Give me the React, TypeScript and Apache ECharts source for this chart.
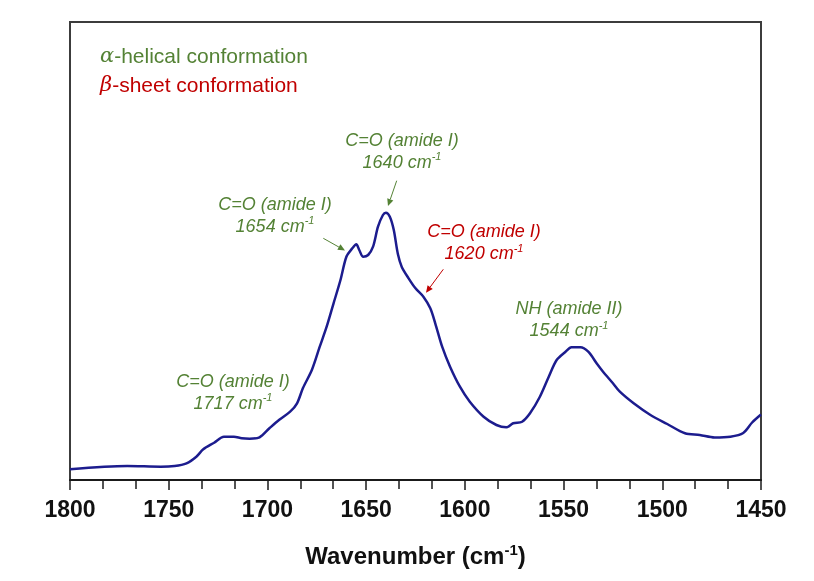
import React, { useEffect, useRef } from "react";
import * as echarts from "echarts";

const wavenumbers = [
  1800, 1771, 1754, 1747, 1741, 1736, 1732.5, 1727, 1722, 1717, 1713, 1709, 1704, 1699, 1694, 1688.5,
  1685, 1682, 1677.5, 1673.5, 1670, 1666.5, 1663, 1660, 1657, 1655, 1653.5, 1651.5, 1649, 1646.5, 1644,
  1641.5, 1640, 1638, 1636, 1634, 1632, 1628.5, 1625, 1621, 1617.5, 1615, 1611.5, 1607.5, 1602.5, 1597.5,
  1590.5, 1584, 1579, 1575.5, 1571, 1567, 1562, 1557.5, 1553.5, 1549, 1546, 1541.5, 1537.5, 1533, 1530,
  1525, 1521.5, 1514.5, 1506, 1497.5, 1488.5, 1481, 1473.5, 1465.5, 1459, 1454.5, 1450,
];
const absorbance = [
  0.107, 0.14, 0.133, 0.14, 0.167, 0.233, 0.307, 0.373, 0.433, 0.433, 0.417, 0.413, 0.427, 0.517, 0.603, 0.683,
  0.767, 0.92, 1.1, 1.333, 1.533, 1.767, 2.0, 2.233, 2.317, 2.357, 2.3, 2.233, 2.25, 2.333, 2.533,
  2.65, 2.673, 2.633, 2.5, 2.267, 2.133, 2.017, 1.917, 1.833, 1.717, 1.567, 1.333, 1.133, 0.933, 0.783,
  0.633, 0.55, 0.527, 0.567, 0.583, 0.667, 0.833, 1.033, 1.2, 1.283, 1.327, 1.327, 1.283, 1.16, 1.083,
  0.967, 0.883, 0.767, 0.65, 0.56, 0.467, 0.45, 0.425, 0.433, 0.47, 0.575, 0.655,
];

const xMin = 1450;
const xMax = 1800;
const xInterval = 50;
const yMin = 0;
const yMax = 4.58;

const axisTitle = "Wavenumber (cm";
const legendAlpha = "-helical conformation";
const legendBeta = "-sheet conformation";

const annotations = [
  { line1: "C=O (amide I)", line2: "1640 cm", kind: "alpha" },
  { line1: "C=O (amide I)", line2: "1654 cm", kind: "alpha" },
  { line1: "C=O (amide I)", line2: "1620 cm", kind: "beta" },
  { line1: "NH (amide II)", line2: "1544 cm", kind: "alpha" },
  { line1: "C=O (amide I)", line2: "1717 cm", kind: "alpha" },
];

const GREEN = "#548235";
const RED = "#c00000";
const FONT = "'Liberation Sans', Arial, sans-serif";

function arrow(x1: number, y1: number, x2: number, y2: number, color: string) {
  const dx = x2 - x1;
  const dy = y2 - y1;
  const L = Math.hypot(dx, dy);
  const ux = dx / L;
  const uy = dy / L;
  const hl = 7;
  const hw = 3.2;
  const bx = x2 - ux * hl;
  const by = y2 - uy * hl;
  return [
    { type: "line", shape: { x1, y1, x2: bx, y2: by }, style: { stroke: color, lineWidth: 1 } },
    {
      type: "polygon",
      shape: { points: [[x2, y2], [bx - uy * hw, by + ux * hw], [bx + uy * hw, by - ux * hw]] },
      style: { fill: color },
    },
  ];
}

function annText(a: { line1: string; line2: string; kind: string }, x: number, y: number) {
  const color = a.kind === "beta" ? RED : GREEN;
  return {
    type: "text",
    x,
    y,
    style: {
      text: `{t|${a.line1}}\n{t|${a.line2}}{s|-1}`,
      align: "center",
      verticalAlign: "middle",
      rich: {
        t: { fontSize: 18, fontStyle: "italic", fill: color, fontFamily: FONT, lineHeight: 22 },
        s: { fontSize: 11, fontStyle: "italic", fill: color, fontFamily: FONT, lineHeight: 12, verticalAlign: "top" },
      },
    },
  };
}

export default function App() {
  const ref = useRef<HTMLDivElement>(null);
  useEffect(() => {
    document.body.style.margin = "0";
    const chart = echarts.init(ref.current!, undefined, { renderer: "svg" });
    const data = wavenumbers.map((w, i) => [w, absorbance[i]]);
    const positions = [
      [402, 150.5],
      [275, 214.7],
      [484, 242],
      [569, 319],
      [233, 391.7],
    ];
    const graphics: any[] = [
      {
        type: "text",
        x: 100,
        y: 55,
        style: {
          text: `{g|α}{t|${legendAlpha}}`,
          verticalAlign: "middle",
          rich: {
            g: { fontSize: 21, fontStyle: "italic", fontFamily: "'DejaVu Serif', serif", fill: GREEN },
            t: { fontSize: 21, fontFamily: FONT, fill: GREEN },
          },
        },
      },
      {
        type: "text",
        x: 100,
        y: 84.3,
        style: {
          text: `{g|β}{t|${legendBeta}}`,
          verticalAlign: "middle",
          rich: {
            g: { fontSize: 21, fontStyle: "italic", fontFamily: "'DejaVu Serif', serif", fill: RED },
            t: { fontSize: 21, fontFamily: FONT, fill: RED },
          },
        },
      },
      ...annotations.map((a, i) => annText(a, positions[i][0], positions[i][1])),
      ...arrow(396.7, 180.7, 388, 206, GREEN),
      ...arrow(323.3, 238.3, 345, 250.5, GREEN),
      ...arrow(443.3, 269.3, 426, 292.7, RED),
    ];
    chart.setOption({
      animation: false,
      grid: {
        left: 70,
        right: 53,
        top: 22,
        bottom: 101,
        show: true,
        borderColor: "#3c3c3c",
        borderWidth: 2,
        backgroundColor: "transparent",
      },
      xAxis: {
        type: "value",
        inverse: true,
        min: xMin,
        max: xMax,
        interval: xInterval,
        name: `{t|${axisTitle}}{s|-1}{t|)}`,
        nameLocation: "middle",
        nameGap: 62,
        nameTextStyle: {
          rich: {
            t: { fontSize: 24, fontWeight: "bold", color: "#111", fontFamily: FONT, lineHeight: 27 },
            s: { fontSize: 15, fontWeight: "bold", color: "#111", fontFamily: FONT, lineHeight: 15, verticalAlign: "top" },
          },
        },
        axisLine: { show: true, lineStyle: { color: "#1a1a1a", width: 2 } },
        axisTick: { show: true, inside: false, length: 10, lineStyle: { color: "#1a1a1a", width: 1.5 } },
        minorTick: { show: true, splitNumber: 3, length: 9, lineStyle: { color: "#1a1a1a", width: 1.5 } },
        axisLabel: {
          fontSize: 23,
          fontWeight: "bold",
          color: "#111",
          fontFamily: FONT,
          margin: 17,
          showMinLabel: true,
          showMaxLabel: true,
          formatter: (v: number) => String(v),
        },
        splitLine: { show: false },
      },
      yAxis: {
        type: "value",
        min: yMin,
        max: yMax,
        show: false,
        splitLine: { show: false },
      },
      series: [
        {
          type: "line",
          data,
          smooth: 0.3,
          symbol: "none",
          lineStyle: { color: "#1c1c8e", width: 2.5 },
        },
      ],
      graphic: graphics,
    });
    return () => chart.dispose();
  }, []);
  return <div ref={ref} style={{ position: "fixed", left: 0, top: 0, width: 814, height: 581 }} />;
}
